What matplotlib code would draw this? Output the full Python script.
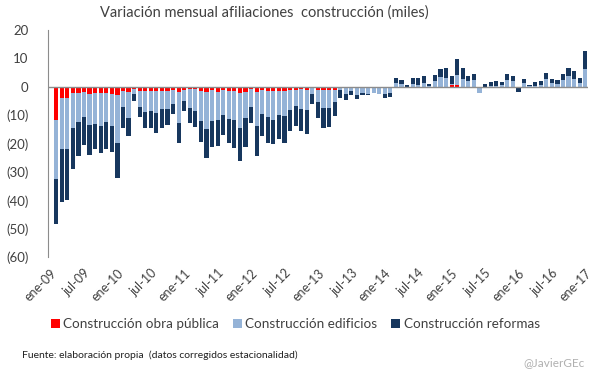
import numpy as np
import matplotlib.pyplot as plt

# Variacion mensual (miles), feb-09 .. ene-17 (ene-09 sin dato)
obra_publica = [
    -11.8, -4.1, -4.1, -2.1, -2.1, -1.8, -2.6, -2.1, -2.1, -2.1, -2.6, -2.9,
    -1.5, -1.8, -0.9, -1.5, -1.5, -1.5, -1.5, -1.5, -1.5, -1.2, -1.8, -1.2,
    -0.9, -0.9, -1.4, -1.8, -1.2, -1.8, -1.2, -1.5, -1.5, -2.1, -1.8, -0.8,
    -1.8, -1.2, -1.4, -1.5, -1.5, -1.5, -1.2, -1.2, -0.8, -1.2, -0.3, -1.2,
    -1.2, -1.2, -1.2, -0.6, -0.6, -0.2, -0.2, -0.1, -0.1, -0.1, -0.1, -0.35,
    -0.3, -0.3, -0.3, -0.2, -0.2, -0.2, -0.2, -0.1, -0.1, -0.1, -0.1, 0.7,
    0.7, -0.2, -0.4, -0.3, -0.2, -0.6, -0.3, -0.5, -0.5, -0.5, -0.5, -0.3,
    -0.5, -0.5, -0.2, -0.4, -0.2, -0.2, -0.5, -0.5, -0.5, -0.2, -0.5, -0.2,
]
edificios = [
    -20.8, -18.0, -18.0, -12.4, -10.3, -9.0, -10.9, -11.2, -11.8, -10.3, -11.3, -16.9,
    -5.8, -9.1, -1.7, -5.8, -7.6, -7.1, -7.8, -6.4, -6.4, -4.9, -10.9, -3.9,
    -6.7, -7.6, -10.7, -13.1, -10.9, -10.0, -8.8, -9.9, -10.3, -12.4, -9.1, -6.5,
    -12.1, -8.6, -9.4, -10.3, -8.5, -8.9, -7.0, -5.6, -7.1, -7.0, -2.2, -4.1,
    -6.2, -6.2, -4.1, -0.6, -2.0, -1.5, -2.6, -2.1, -2.4, -2.1, -2.6, -2.25,
    -2.1, 1.2, 0.8, -0.4, 1.0, 0.5, 1.4, 0.2, 2.0, 3.4, 3.2, 0.35,
    3.3, 2.6, 1.9, 2.2, -2.1, 0.0, 0.2, 0.2, 0.5, 2.2, 1.9, -0.3,
    1.3, 0.1, 0.2, 0.5, 2.8, 1.4, 1.0, 2.5, 3.6, 2.6, 1.4, 6.3,
]
reformas = [
    -15.9, -18.5, -17.9, -14.5, -12.1, -9.8, -10.6, -8.7, -9.4, -9.6, -9.0, -12.3,
    -7.2, -6.4, -2.3, -3.3, -5.6, -6.1, -7.1, -6.8, -5.6, -3.5, -7.1, -3.4,
    -5.1, -5.6, -7.3, -10.2, -9.1, -9.0, -7.1, -8.4, -9.7, -11.6, -10.3, -5.4,
    -10.5, -7.5, -9.0, -8.4, -8.5, -9.4, -7.4, -7.1, -7.6, -8.3, -3.5, -5.6,
    -7.1, -6.7, -4.9, -2.7, -2.1, -1.1, -1.5, -0.6, -0.3, 0.0, 0.0, -1.5,
    -1.1, 1.8, 1.5, 0.6, 2.2, 2.4, 2.2, 0.6, 2.0, 2.9, 3.2, 2.6,
    5.9, 3.8, 1.8, 2.1, 0.0, 1.0, 1.4, 1.8, 1.3, 2.4, 1.8, -1.2,
    1.4, 0.5, 1.3, 1.5, 2.1, 1.2, 1.5, 2.0, 3.1, 2.8, 1.6, 6.1,
]
series_names = ['Construcción obra pública', 'Construcción edificios', 'Construcción reformas']
series_colors = ['#FF0000', '#95B3D7', '#17375E']

tick_labels = ['ene-09', 'jul-09', 'ene-10', 'jul-10', 'ene-11', 'jul-11', 'ene-12',
               'jul-12', 'ene-13', 'jul-13', 'ene-14', 'jul-14', 'ene-15', 'jul-15',
               'ene-16', 'jul-16', 'ene-17']
y_ticks = [20, 10, 0, -10, -20, -30, -40, -50, -60]

plt.rcParams['font.family'] = ['Lato', 'DejaVu Sans']
text_color = '#404040'

fig = plt.figure(figsize=(6.05, 3.78), dpi=100)
ax = fig.add_axes([0.079, 0.32, 0.893, 0.601])

# Stacked bars, positives up and negatives down from zero
x = np.arange(1, len(obra_publica) + 1)
pos_base = np.zeros(len(x))
neg_base = np.zeros(len(x))
for vals, color, name in zip([obra_publica, edificios, reformas], series_colors, series_names):
    v = np.array(vals)
    bottom = np.where(v >= 0, pos_base, neg_base)
    ax.bar(x, v, 0.75, bottom=bottom, color=color, label=name, linewidth=0)
    pos_base += np.clip(v, 0, None)
    neg_base += np.clip(v, None, 0)

ax.axhline(0, color='#8c8c8c', linewidth=1, zorder=3)
ax.set_xlim(-0.5, 96.5)
ax.set_ylim(-60, 20)

ax.set_yticks(y_ticks)
ax.set_yticklabels([str(t) if t >= 0 else '(%d)' % -t for t in y_ticks])
ax.set_xticks(np.arange(0, 97, 6))
ax.set_xticklabels(tick_labels, rotation=45, ha='right', rotation_mode='anchor')
ax.tick_params(axis='y', length=0, labelsize=9.5, colors=text_color, pad=14)
ax.tick_params(axis='x', length=0, labelsize=9, colors=text_color, pad=7)

for side in ['top', 'right', 'bottom']:
    ax.spines[side].set_visible(False)
ax.spines['left'].set_color('#8c8c8c')

fig.text(0.437, 0.966, 'Variación mensual afiliaciones  construcción (miles)',
         ha='center', va='center', fontsize=10.5, color=text_color)

fig.legend(loc='center', bbox_to_anchor=(0.488, 0.143), ncol=3, frameon=False,
           fontsize=9.7, handlelength=0.7, handleheight=0.7, handletextpad=0.25,
           columnspacing=1.0, labelcolor=text_color)

fig.text(0.036, 0.06, 'Fuente: elaboración propia  (datos corregidos estacionalidad)',
         ha='left', va='center', fontsize=7.5, color='#202020')
fig.text(0.967, 0.04, '@JavierGEc', ha='right', va='center', fontsize=8.5, color='#b0b0b0')

fig.savefig('out.png', dpi=100)
